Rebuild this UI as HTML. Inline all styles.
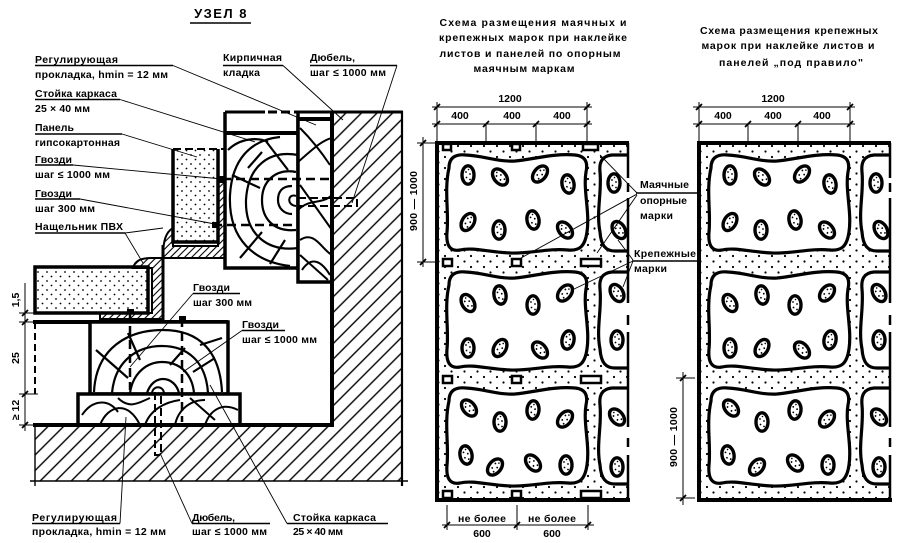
<!DOCTYPE html>
<html><head><meta charset="utf-8"><style>
html,body{margin:0;padding:0;background:#fff;}
svg{display:block;}
text{font-family:"Liberation Sans","DejaVu Sans",sans-serif;font-weight:bold;font-size:10.5px;fill:#000;}
.k{stroke:#000;fill:none;}
</style></head><body>
<svg width="902" height="543" viewBox="0 0 902 543" xmlns="http://www.w3.org/2000/svg" xmlns:xlink="http://www.w3.org/1999/xlink">
<defs>
 <pattern id="hatch" patternUnits="userSpaceOnUse" width="11" height="11" patternTransform="rotate(45)"><line x1="5.5" y1="0" x2="5.5" y2="11" stroke="#000" stroke-width="1.4"/></pattern>
 <pattern id="hatchs" patternUnits="userSpaceOnUse" width="5" height="5" patternTransform="rotate(45)"><line x1="2.5" y1="0" x2="2.5" y2="5" stroke="#000" stroke-width="1.1"/></pattern>
 <pattern id="dots" patternUnits="userSpaceOnUse" width="9" height="9"><circle cx="2" cy="2" r="0.9"/><circle cx="6.5" cy="6.5" r="0.9"/></pattern>
 <pattern id="dots2" patternUnits="userSpaceOnUse" width="13" height="11"><circle cx="3" cy="3" r="1.1"/><circle cx="9.5" cy="8.5" r="1.1"/></pattern>
 <clipPath id="pclip"><rect x="437" y="143" width="192" height="357"/></clipPath>
 <g id="lump"><ellipse rx="6" ry="9.2" fill="#fff" stroke="#000" stroke-width="3.4"/><circle cx="-2" cy="-3" r="0.9"/><circle cx="2" cy="-1" r="0.9"/><circle cx="-1.5" cy="2.5" r="0.9"/><circle cx="2" cy="4.5" r="0.9"/><circle cx="0.5" cy="-5.5" r="0.8"/></g>
 <path id="bigblob" d="M449,168 C449,157 456,154 466,155 C485,156 497,162 515,161 C535,159 555,153 575,155 C586,156 588,163 586,172 C583,190 590,212 587,232 C585,246 580,251 568,250 C548,248 530,254 510,253 C488,252 472,247 460,250 C449,252 446,244 447,232 C449,212 444,190 449,168 Z" fill="#fff" stroke="#000" stroke-width="3.2"/>
 <path id="partblob" d="M640,155 L612,155 C602,156 599,162 600,172 C602,192 596,212 600,232 C601,246 606,251 615,251 L640,251 Z" fill="#fff" stroke="#000" stroke-width="3.2"/>
</defs>

<!-- ================= LEFT: УЗЕЛ 8 ================= -->
<text x="221" y="18" text-anchor="middle" style="font-size:13px;letter-spacing:1.5px">УЗЕЛ 8</text>
<line x1="190" y1="23" x2="251" y2="23" class="k" stroke-width="1.5"/>

<!-- wall / floor hatch -->
<path d="M332,112 L402,112 L402,481 L35,481 L35,425 L332,425 Z" fill="url(#hatch)"/>
<line x1="298" y1="112" x2="403" y2="112" class="k" stroke-width="3"/>
<line x1="402" y1="111" x2="402" y2="486" class="k" stroke-width="2.2"/>
<line x1="30" y1="481" x2="408" y2="481" class="k" stroke-width="1.5"/>
<line x1="35" y1="425" x2="35" y2="486" class="k" stroke-width="1.4"/>
<line x1="332" y1="111" x2="332" y2="427" class="k" stroke-width="4"/>

<!-- upper frame box -->
<rect x="225" y="112" width="73" height="156" fill="#fff"/>
<path d="M225,112 L225,268 L298,268 L298,112" class="k" stroke-width="3.5"/>
<line x1="225" y1="112" x2="265" y2="112" class="k" stroke-width="3"/>
<line x1="268" y1="112" x2="298" y2="112" class="k" stroke-width="3" stroke-dasharray="9 4"/>
<line x1="225" y1="133" x2="298" y2="133" class="k" stroke-width="4"/>
<g class="k" stroke-width="2.2">
 <path d="M292,186 C282,186 278,192 278,200 C278,208 284,214 292,214"/>
 <path d="M296,172 C275,168 262,182 262,200 C262,220 275,232 296,230"/>
 <path d="M298,155 C270,150 248,165 246,200 C245,235 268,252 298,248"/>
 <path d="M280,137 C250,140 232,160 230,195 C228,240 255,262 290,266"/>
 <path d="M265,140 L288,170 M232,175 L260,188 M240,258 L262,232 M270,264 L285,240 M262,152 L248,168 M228,150 C240,138 258,137 268,142"/>
</g>
<!-- strip -->
<rect x="298" y="119" width="34" height="163" style="fill:#fff" class="k" stroke-width="3.5"/>
<line x1="298" y1="119" x2="332" y2="119" class="k" stroke-width="4"/>
<g class="k" stroke-width="2">
 <path d="M300,128 C312,140 320,150 330,165 M298,162 C312,150 322,140 332,138 M298,210 C310,198 322,205 332,195 M300,240 C315,230 322,250 332,255 M300,185 L332,230 M302,270 C312,255 322,262 330,275 M300,255 L328,280"/>
</g>
<line x1="332" y1="111" x2="332" y2="427" class="k" stroke-width="4"/>
<!-- upper nails / dowel -->
<line x1="222" y1="179" x2="330" y2="179" class="k" stroke-width="2.5" stroke-dasharray="9 5"/>
<rect x="218" y="176" width="6" height="6"/>
<line x1="213" y1="225" x2="297" y2="225" class="k" stroke-width="2.5" stroke-dasharray="9 5"/>
<rect x="212" y="222" width="6" height="6"/>
<path d="M298,198 L357,198 L357,206 L298,206" class="k" stroke-width="2" stroke-dasharray="8 4"/>
<path d="M296,196 C288,193 286,205 296,206" class="k" stroke-width="2"/>

<!-- upper gypsum panel -->
<rect x="173" y="149" width="45" height="93" fill="url(#dots)"/>
<path d="M173,149 L173,242 L218,242 L218,149" class="k" stroke-width="3.5"/>
<line x1="173" y1="149" x2="225" y2="149" class="k" stroke-width="2" stroke-dasharray="8 4"/>
<!-- PVC -->
<path d="M173,228 C166,232 163,240 163,258 L225,258 L225,182 L218,182 L218,246 L173,246 Z" style="fill:url(#hatchs)" class="k" stroke-width="2"/>
<path d="M133,268 C135,260 142,258 152,258 L163,258 L163,319 L100,319 L100,313 L152,313 L152,268 Z" style="fill:url(#hatchs)" class="k" stroke-width="2"/>
<line x1="163" y1="245" x2="163" y2="320" class="k" stroke-width="3"/>

<!-- lower gypsum panel -->
<rect x="35" y="267" width="113" height="46" style="fill:url(#dots)" class="k" stroke-width="3.5"/>
<line x1="152" y1="268" x2="152" y2="313" class="k" stroke-width="1.2"/>

<!-- lower stud box -->
<line x1="33" y1="322" x2="228" y2="322" class="k" stroke-width="4"/>
<rect x="90" y="322" width="138" height="72" style="fill:#fff" class="k" stroke-width="3.5"/>
<g class="k" stroke-width="2.2">
 <path d="M94,392 C96,348 128,330 163,330 C200,330 220,352 222,392"/>
 <path d="M112,393 C115,360 138,346 162,346 C188,346 206,362 208,393"/>
 <path d="M130,393 C133,372 148,362 162,362 C178,362 192,372 194,393"/>
 <path d="M147,393 C150,384 156,379 163,379 C171,379 177,385 179,393"/>
 <path d="M96,350 L128,378 M128,333 L140,360 M193,372 L215,358 M170,365 L185,348 M200,345 L222,338"/>
</g>
<!-- pad -->
<rect x="78" y="394" width="162" height="31" style="fill:#fff" class="k" stroke-width="3.5"/>
<g class="k" stroke-width="2">
 <path d="M82,415 C92,400 108,398 118,412 M100,425 C108,405 128,400 140,425 M118,398 C130,410 140,402 150,398 M145,425 C150,410 165,402 180,400 M175,425 C178,410 190,400 205,400 M205,425 C210,410 222,402 238,410 M190,398 L215,420"/>
</g>
<line x1="33" y1="425" x2="334" y2="425" class="k" stroke-width="4"/>
<!-- lower nails & dowel -->
<line x1="130" y1="312" x2="130" y2="390" class="k" stroke-width="2.5" stroke-dasharray="9 5"/>
<rect x="127" y="309" width="7" height="5"/>
<line x1="182" y1="318" x2="182" y2="422" class="k" stroke-width="2.5" stroke-dasharray="9 5"/>
<rect x="179" y="316" width="7" height="5"/>
<path d="M155,392 L155,455 L161,455 L161,392" class="k" stroke-width="2" stroke-dasharray="8 4"/>
<path d="M152,394 C152,385 164,385 164,394" class="k" stroke-width="2"/>
<line x1="35" y1="322" x2="35" y2="394" class="k" stroke-width="2" stroke-dasharray="7 4"/>

<!-- left dims -->
<line x1="25" y1="283" x2="25" y2="431" class="k" stroke-width="1"/>
<g class="k" stroke-width="1">
 <line x1="19" y1="313" x2="35" y2="313"/><line x1="19" y1="322" x2="35" y2="322"/>
 <line x1="19" y1="394" x2="38" y2="394"/><line x1="19" y1="425" x2="35" y2="425"/>
</g>
<g class="k" stroke-width="1.8">
 <line x1="22" y1="316" x2="28" y2="310"/><line x1="22" y1="325" x2="28" y2="319"/>
 <line x1="22" y1="397" x2="28" y2="391"/><line x1="22" y1="428" x2="28" y2="422"/>
</g>
<text transform="translate(19,300) rotate(-90)" text-anchor="middle">1,5</text>
<text transform="translate(19,358) rotate(-90)" text-anchor="middle">25</text>
<text transform="translate(19,410) rotate(-90)" text-anchor="middle">≥ 12</text>

<!-- left labels -->
<text x="35" y="63" textLength="83" lengthAdjust="spacing">Регулирующая</text>
<text x="35" y="78" textLength="133" lengthAdjust="spacing">прокладка, hmin = 12 мм</text>
<text x="35" y="97" textLength="82" lengthAdjust="spacing">Стойка каркаса</text>
<text x="35" y="112" textLength="55" lengthAdjust="spacing">25 × 40 мм</text>
<text x="35" y="131" textLength="39" lengthAdjust="spacing">Панель</text>
<text x="35" y="146" textLength="85" lengthAdjust="spacing">гипсокартонная</text>
<text x="35" y="163" textLength="37" lengthAdjust="spacing">Гвозди</text>
<text x="35" y="178" textLength="75" lengthAdjust="spacing">шаг ≤ 1000 мм</text>
<text x="35" y="197" textLength="37" lengthAdjust="spacing">Гвозди</text>
<text x="35" y="212" textLength="60" lengthAdjust="spacing">шаг 300 мм</text>
<text x="35" y="230" textLength="88" lengthAdjust="spacing">Нащельник ПВХ</text>
<text x="223" y="61" textLength="59" lengthAdjust="spacing">Кирпичная</text>
<text x="223" y="76" textLength="37" lengthAdjust="spacing">кладка</text>
<text x="310" y="61" textLength="45" lengthAdjust="spacing">Дюбель,</text>
<text x="310" y="76" textLength="76" lengthAdjust="spacing">шаг ≤ 1000 мм</text>
<text x="193" y="291" textLength="37" lengthAdjust="spacing">Гвозди</text>
<text x="193" y="306" textLength="59" lengthAdjust="spacing">шаг 300 мм</text>
<text x="242" y="328" textLength="37" lengthAdjust="spacing">Гвозди</text>
<text x="242" y="343" textLength="75" lengthAdjust="spacing">шаг ≤ 1000 мм</text>
<text x="32" y="521" textLength="85" lengthAdjust="spacing">Регулирующая</text>
<text x="32" y="535" textLength="134" lengthAdjust="spacing">прокладка, hmin = 12 мм</text>
<text x="192" y="521" textLength="43" lengthAdjust="spacing">Дюбель,</text>
<text x="192" y="535" textLength="75" lengthAdjust="spacing">шаг ≤ 1000 мм</text>
<text x="293" y="521" textLength="83" lengthAdjust="spacing">Стойка каркаса</text>
<text x="293" y="535" textLength="50" lengthAdjust="spacing">25 × 40 мм</text>

<!-- underlines -->
<g class="k" stroke-width="1.5">
 <line x1="35" y1="65.5" x2="173" y2="65.5"/>
 <line x1="35" y1="99.5" x2="120" y2="99.5"/>
 <line x1="35" y1="134" x2="122" y2="134"/>
 <line x1="35" y1="165" x2="73" y2="165"/>
 <line x1="35" y1="199" x2="80" y2="199"/>
 <line x1="35" y1="233" x2="125" y2="233"/>
 <line x1="223" y1="65.5" x2="283" y2="65.5"/>
 <line x1="310" y1="65.5" x2="397" y2="65.5"/>
 <line x1="193" y1="293.5" x2="240" y2="293.5"/>
 <line x1="242" y1="330.5" x2="285" y2="330.5"/>
 <line x1="32" y1="523.5" x2="120" y2="523.5"/>
 <line x1="192" y1="523.5" x2="270" y2="523.5"/>
 <line x1="287" y1="523.5" x2="388" y2="523.5"/>
</g>
<!-- leaders -->
<g class="k" stroke-width="0.9">
 <line x1="173" y1="65.5" x2="316" y2="125"/>
 <line x1="120" y1="99.5" x2="255" y2="142"/>
 <line x1="122" y1="134" x2="197" y2="157"/>
 <line x1="73" y1="165" x2="222" y2="179"/>
 <line x1="80" y1="199" x2="215" y2="224"/>
 <line x1="125" y1="233" x2="163" y2="228"/>
 <line x1="125" y1="233" x2="143" y2="263"/>
 <line x1="283" y1="65.5" x2="343" y2="120"/>
 <line x1="397" y1="65.5" x2="352" y2="203"/>
 <line x1="193" y1="293.5" x2="130" y2="367"/>
 <line x1="242" y1="330.5" x2="183" y2="372"/>
 <line x1="120" y1="523.5" x2="126" y2="417"/>
 <line x1="192" y1="523.5" x2="160" y2="453"/>
 <line x1="287" y1="523.5" x2="210" y2="385"/>
</g>

<!-- ================= MIDDLE PANEL ================= -->
<text x="533" y="26" text-anchor="middle" textLength="187" lengthAdjust="spacing">Схема размещения маячных и</text>
<text x="533" y="41" text-anchor="middle" textLength="188" lengthAdjust="spacing">крепежных марок при наклейке</text>
<text x="530" y="57" text-anchor="middle" textLength="181" lengthAdjust="spacing">листов и панелей по опорным</text>
<text x="524" y="72" text-anchor="middle" textLength="101" lengthAdjust="spacing">маячным маркам</text>

<g id="pc">
 <g clip-path="url(#pclip)">
  <rect x="437" y="143" width="193" height="357" fill="url(#dots2)"/>
  <use xlink:href="#bigblob" href="#bigblob"/>
  <use xlink:href="#bigblob" href="#bigblob" transform="translate(0,117)"/>
  <use xlink:href="#bigblob" href="#bigblob" transform="translate(0,233)"/>
  <use xlink:href="#partblob" href="#partblob"/>
  <use xlink:href="#partblob" href="#partblob" transform="translate(0,117)"/>
  <use xlink:href="#partblob" href="#partblob" transform="translate(0,233)"/>
  <use xlink:href="#lump" href="#lump" transform="translate(468,175)"/>
  <use xlink:href="#lump" href="#lump" transform="translate(500,177) rotate(-40)"/>
  <use xlink:href="#lump" href="#lump" transform="translate(540,174) rotate(40)"/>
  <use xlink:href="#lump" href="#lump" transform="translate(568,184) rotate(-10)"/>
  <use xlink:href="#lump" href="#lump" transform="translate(468,222) rotate(30)"/>
  <use xlink:href="#lump" href="#lump" transform="translate(499,230)"/>
  <use xlink:href="#lump" href="#lump" transform="translate(533,220) rotate(-10)"/>
  <use xlink:href="#lump" href="#lump" transform="translate(565,230) rotate(-40)"/>
  <use xlink:href="#lump" href="#lump" transform="translate(614,183)"/>
  <use xlink:href="#lump" href="#lump" transform="translate(619,230) rotate(-30)"/>
  <use xlink:href="#lump" href="#lump" transform="translate(468,303) rotate(-30)"/>
  <use xlink:href="#lump" href="#lump" transform="translate(500,295) rotate(-10)"/>
  <use xlink:href="#lump" href="#lump" transform="translate(533,305)"/>
  <use xlink:href="#lump" href="#lump" transform="translate(565,293) rotate(40)"/>
  <use xlink:href="#lump" href="#lump" transform="translate(468,348)"/>
  <use xlink:href="#lump" href="#lump" transform="translate(500,348) rotate(30)"/>
  <use xlink:href="#lump" href="#lump" transform="translate(540,350) rotate(-40)"/>
  <use xlink:href="#lump" href="#lump" transform="translate(568,340) rotate(10)"/>
  <use xlink:href="#lump" href="#lump" transform="translate(617,293) rotate(-30)"/>
  <use xlink:href="#lump" href="#lump" transform="translate(617,340)"/>
  <use xlink:href="#lump" href="#lump" transform="translate(469,408) rotate(-40)"/>
  <use xlink:href="#lump" href="#lump" transform="translate(500,422)"/>
  <use xlink:href="#lump" href="#lump" transform="translate(533,410) rotate(5)"/>
  <use xlink:href="#lump" href="#lump" transform="translate(565,419) rotate(40)"/>
  <use xlink:href="#lump" href="#lump" transform="translate(466,455) rotate(-10)"/>
  <use xlink:href="#lump" href="#lump" transform="translate(495,467) rotate(40)"/>
  <use xlink:href="#lump" href="#lump" transform="translate(533,463) rotate(-40)"/>
  <use xlink:href="#lump" href="#lump" transform="translate(566,465)"/>
  <use xlink:href="#lump" href="#lump" transform="translate(617,417) rotate(-40)"/>
  <use xlink:href="#lump" href="#lump" transform="translate(617,467)"/>
 </g>
 <!-- borders -->
 <path d="M437,500 L437,143 L629,143" class="k" stroke-width="4"/>
 <line x1="435" y1="500" x2="630" y2="500" class="k" stroke-width="4"/>
 <g class="k" stroke-width="2.5">
  <line x1="628" y1="143" x2="628" y2="178"/>
  <line x1="628" y1="183" x2="628" y2="192"/>
  <line x1="628" y1="198" x2="628" y2="303"/>
  <line x1="628" y1="315" x2="628" y2="325"/>
  <line x1="628" y1="332" x2="628" y2="427"/>
  <line x1="628" y1="438" x2="628" y2="447"/>
  <line x1="628" y1="455" x2="628" y2="500"/>
 </g>
</g>
<use xlink:href="#pc" href="#pc" x="262"/>

<!-- markers (middle only) -->
<g fill="#fff" stroke="#000" stroke-width="2.5">
 <rect x="443" y="144" width="8" height="6"/><rect x="512" y="144" width="8" height="6"/><rect x="583" y="144" width="15" height="6"/>
 <rect x="443" y="259" width="9" height="7"/><rect x="512" y="259" width="9" height="7"/><rect x="581" y="259" width="20" height="7"/>
 <rect x="443" y="376" width="9" height="7"/><rect x="512" y="376" width="9" height="7"/><rect x="581" y="376" width="20" height="7"/>
 <rect x="443" y="491" width="9" height="7"/><rect x="512" y="491" width="9" height="7"/><rect x="581" y="491" width="20" height="7"/>
</g>

<!-- middle dims -->
<g class="k" stroke-width="1">
 <line x1="432" y1="107" x2="592" y2="107"/>
 <line x1="432" y1="124" x2="592" y2="124"/>
 <line x1="437" y1="102" x2="437" y2="143"/>
 <line x1="486" y1="124" x2="486" y2="143"/>
 <line x1="536" y1="124" x2="536" y2="143"/>
 <line x1="587" y1="102" x2="587" y2="143"/>
 <line x1="423" y1="137" x2="423" y2="267"/>
 <line x1="417" y1="143" x2="437" y2="143"/>
 <line x1="417" y1="262" x2="437" y2="262"/>
 <line x1="447" y1="505" x2="447" y2="530"/>
 <line x1="517" y1="505" x2="517" y2="530"/>
 <line x1="588" y1="505" x2="588" y2="530"/>
 <line x1="442" y1="525" x2="594" y2="525"/>
</g>
<g class="k" stroke-width="1.8">
 <line x1="434" y1="110" x2="440" y2="104"/><line x1="584" y1="110" x2="590" y2="104"/>
 <line x1="434" y1="127" x2="440" y2="121"/><line x1="483" y1="127" x2="489" y2="121"/>
 <line x1="533" y1="127" x2="539" y2="121"/><line x1="584" y1="127" x2="590" y2="121"/>
 <line x1="420" y1="146" x2="426" y2="140"/><line x1="420" y1="265" x2="426" y2="259"/>
 <line x1="444" y1="528" x2="450" y2="522"/><line x1="514" y1="528" x2="520" y2="522"/><line x1="585" y1="528" x2="591" y2="522"/>
</g>
<text x="510" y="102" text-anchor="middle">1200</text>
<text x="460" y="119" text-anchor="middle">400</text>
<text x="512" y="119" text-anchor="middle">400</text>
<text x="562" y="119" text-anchor="middle">400</text>
<text transform="translate(417,201) rotate(-90)" text-anchor="middle" textLength="60" lengthAdjust="spacing">900 — 1000</text>
<text x="482" y="522" text-anchor="middle" textLength="48" lengthAdjust="spacing">не более</text>
<text x="482" y="537" text-anchor="middle">600</text>
<text x="552" y="522" text-anchor="middle" textLength="48" lengthAdjust="spacing">не более</text>
<text x="552" y="537" text-anchor="middle">600</text>

<!-- middle labels -->
<text x="640" y="188" textLength="49" lengthAdjust="spacing">Маячные</text>
<text x="640" y="204" textLength="47" lengthAdjust="spacing">опорные</text>
<text x="640" y="219" textLength="33" lengthAdjust="spacing">марки</text>
<text x="634" y="257" textLength="62" lengthAdjust="spacing">Крепежные</text>
<text x="634" y="272" textLength="33" lengthAdjust="spacing">марки</text>
<g class="k" stroke-width="1.5">
 <line x1="636" y1="193" x2="697" y2="193"/>
 <line x1="632" y1="261" x2="697" y2="261"/>
</g>
<g class="k" stroke-width="0.9">
 <line x1="637" y1="193" x2="600" y2="155"/>
 <line x1="637" y1="194" x2="521" y2="258"/>
 <line x1="637" y1="195" x2="597" y2="253"/>
 <line x1="633" y1="261" x2="572" y2="290"/>
 <line x1="633" y1="261" x2="623" y2="287"/>
 <line x1="633" y1="260" x2="618" y2="240"/>
</g>

<!-- ================= RIGHT PANEL ================= -->
<text x="789" y="34" text-anchor="middle" textLength="178" lengthAdjust="spacing">Схема размещения крепежных</text>
<text x="788" y="49" text-anchor="middle" textLength="173" lengthAdjust="spacing">марок при наклейке листов и</text>
<text x="791" y="66" text-anchor="middle" textLength="144" lengthAdjust="spacing">панелей  „под правило"</text>
<g class="k" stroke-width="1">
 <line x1="693" y1="107" x2="855" y2="107"/>
 <line x1="693" y1="124" x2="855" y2="124"/>
 <line x1="699" y1="102" x2="699" y2="143"/>
 <line x1="748" y1="124" x2="748" y2="143"/>
 <line x1="798" y1="124" x2="798" y2="143"/>
 <line x1="850" y1="102" x2="850" y2="143"/>
 <line x1="683" y1="372" x2="683" y2="505"/>
 <line x1="676" y1="378" x2="695" y2="378"/>
 <line x1="676" y1="498" x2="695" y2="498"/>
</g>
<g class="k" stroke-width="1.8">
 <line x1="696" y1="110" x2="702" y2="104"/><line x1="847" y1="110" x2="853" y2="104"/>
 <line x1="696" y1="127" x2="702" y2="121"/><line x1="745" y1="127" x2="751" y2="121"/>
 <line x1="795" y1="127" x2="801" y2="121"/><line x1="847" y1="127" x2="853" y2="121"/>
 <line x1="680" y1="381" x2="686" y2="375"/><line x1="680" y1="501" x2="686" y2="495"/>
</g>
<text x="773" y="102" text-anchor="middle">1200</text>
<text x="723" y="119" text-anchor="middle">400</text>
<text x="773" y="119" text-anchor="middle">400</text>
<text x="822" y="119" text-anchor="middle">400</text>
<text transform="translate(677,437) rotate(-90)" text-anchor="middle" textLength="60" lengthAdjust="spacing">900 — 1000</text>
</svg>
</body></html>
